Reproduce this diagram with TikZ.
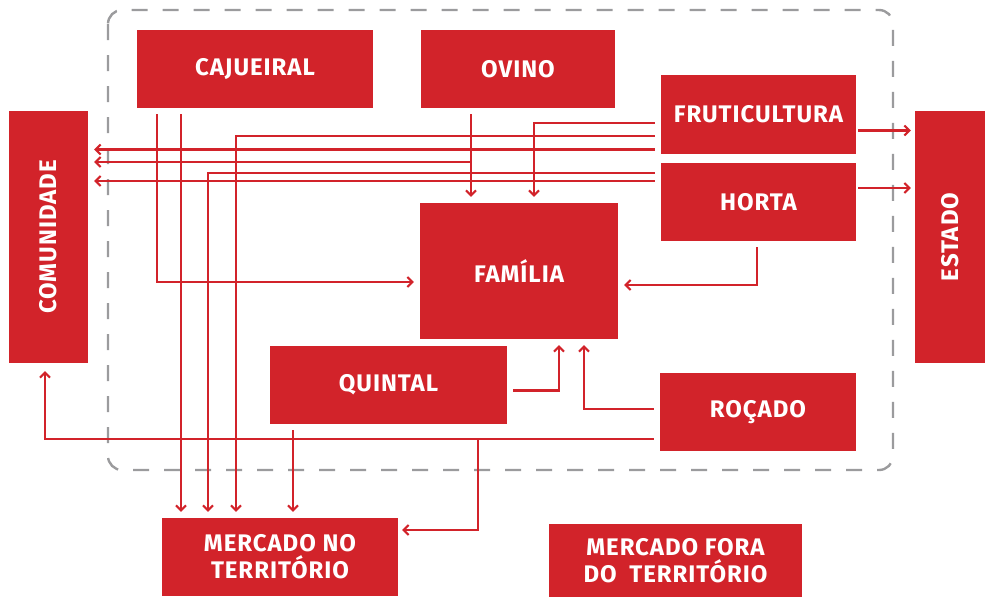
\documentclass[tikz,border=0pt]{standalone}
\usepackage{fontspec}
\setmainfont{Fira Sans}
\usetikzlibrary{arrows.meta}
\definecolor{boxred}{HTML}{D2232A}
\definecolor{dashgray}{HTML}{9B9B9D}

\begin{document}
\begin{tikzpicture}[x=1pt,y=-1pt,>={Straight Barb[length=5pt,width=10pt,line width=2pt]},
		box/.style={fill=boxred,text=white,font=\fontsize{24}{27}\selectfont\bfseries\addfontfeatures{LetterSpace=4},align=center,inner sep=0pt},
		flow/.style={draw=boxred,line width=2.2pt,->,shorten <=6pt,shorten >=6pt}]
		\useasboundingbox (0,0) rectangle (985,598);
		\draw[dashgray,line width=2.4pt,dash pattern=on 16pt off 15pt,rounded corners=14pt] (108,10) rectangle (893,470);
		
		\node[box,minimum width=236pt,minimum height=78pt]	(cajueiral)		at (255,69)			{CAJUEIRAL};
		\node[box,minimum width=194pt,minimum height=78pt]	(ovino)			at (518,69)			{OVINO};
		\node[box,minimum width=195pt,minimum height=79pt]	(fruticultura)	at (758.5,114.5)	{FRUTICULTURA};
		\node[box,minimum width=195pt,minimum height=78pt]	(horta)			at (758.5,202)		{HORTA};
		\node[box,minimum width=198pt,minimum height=136pt]	(familia)		at (519,271)		{FAMÍLIA};
		\node[box,minimum width=237pt,minimum height=78pt]	(quintal)		at (388.5,385)		{QUINTAL};
		\node[box,minimum width=196pt,minimum height=78pt]	(rocado)		at (758,412)		{ROÇADO};
		\node[box,minimum width=79pt,minimum height=252pt]	(comunidade)	at (48.5,237)		{};
		\node[box,rotate=90]								at (comunidade)		{COMUNIDADE};
		\node[box,minimum width=70pt,minimum height=252pt]	(estado)		at (950,237)		{};
		\node[box,rotate=90]								at (estado)			{ESTADO};
		\node[box,minimum width=236pt,minimum height=78pt]	(mercadono)		at (280,557)		{MERCADO NO\\TERRITÓRIO};
		\node[box,minimum width=253pt,minimum height=73pt]	(mercadofora)	at (675.5,560.5)	{MERCADO FORA\\DO\hspace{0.25em} TERRITÓRIO};
		
		% cajueiral
		\draw[flow]	([xshift=-98pt]cajueiral.south)	|- ([yshift=-11pt]familia.west);
		\draw[flow]	([xshift=-74pt]cajueiral.south)	-- ([xshift=-74pt]cajueiral.south |- mercadono.north);
		% ovino
		\draw[flow]	([xshift=-47pt]ovino.south)		|- ([yshift=75pt]comunidade.east);
		\draw[flow]	([xshift=-47pt]ovino.south)		-- ([xshift=-47pt]ovino.south |- familia.north);
		% fruticultura
		\draw[flow]	([yshift=-8.5pt]fruticultura.west)	-| ([xshift=15pt]familia.north);
		\draw[flow]	([yshift=-21.5pt]fruticultura.west)	-| ([xshift=-44pt]mercadono.north);
		\draw[flow]	([yshift=-35pt]fruticultura.west)	-- ([yshift=87.5pt]comunidade.east);
		\draw[flow,shorten <=2pt,shorten >=4pt]	([yshift=-16pt]fruticultura.east)	-- ([yshift=-16pt]fruticultura.east -| estado.west);
		% horta
		\draw[flow]	([yshift=29pt]horta.west)		-| ([xshift=-72pt]mercadono.north);
		\draw[flow]	([yshift=21pt]horta.west)		-- ([yshift=56pt]comunidade.east);
		\draw[flow]	([xshift=-1.5pt]horta.south)	|- ([yshift=-14pt]familia.east);
		\draw[flow,shorten <=2pt,shorten >=4pt]	([yshift=14pt]horta.east)	-- ([yshift=14pt]horta.east -| estado.west);
		% quintal
		\draw[flow]	([yshift=-5.5pt]quintal.east)	-| ([xshift=40pt]familia.south);
		\draw[flow]	([xshift=-95.5pt]quintal.south)	-- ([xshift=-95.5pt]quintal.south |- mercadono.north);
		% rocado
		\draw[flow]	([yshift=3pt]rocado.west)		-| ([xshift=65pt]familia.south);
		\draw[flow]	([yshift=-27pt]rocado.west)		-| ([xshift=-3.5pt,yshift=-2pt]comunidade.south);
		\draw[flow,shorten >=4pt]	([yshift=-27pt]rocado.west)		-| (478,530) -- ([yshift=27pt]mercadono.east);
\end{tikzpicture}
\end{document}
